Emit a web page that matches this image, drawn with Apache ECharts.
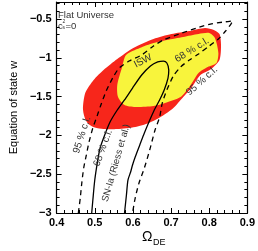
<!DOCTYPE html>
<html><head><meta charset="utf-8">
<script src="https://cdn.jsdelivr.net/npm/echarts@6/dist/echarts.min.js"></script>
<style>html,body{margin:0;padding:0;background:#fff}#c{width:258px;height:251px}</style>
</head><body><div id="c"></div>
<script>
// ---- data ----
const xMajor = [0.4, 0.5, 0.6, 0.7, 0.8, 0.9];
const xMinor = [0.42,0.44,0.46,0.48,0.52,0.54,0.56,0.58,0.62,0.64,0.66,0.68,0.72,0.74,0.76,0.78,0.82,0.84,0.86,0.88];
const yMajor = [-3, -2.5, -2, -1.5, -1, -0.5];
const yMinor = [-2.9,-2.8,-2.7,-2.6,-2.4,-2.3,-2.2,-2.1,-1.9,-1.8,-1.7,-1.6,-1.4,-1.3,-1.2,-1.1,-0.9,-0.8,-0.7,-0.6,-0.4,-0.3];

// combined 95% region (red)
const red_x = [0.469,0.471,0.476,0.497,0.523,0.559,0.601,0.654,0.701,0.748,0.789,0.812,0.827,0.831,0.827,0.805,0.777,0.753,0.732,0.706,0.677,0.642,0.606,0.559,0.523,0.500,0.485,0.476,0.471];
const red_y = [-1.646,-1.543,-1.440,-1.286,-1.157,-1.015,-0.873,-0.757,-0.693,-0.654,-0.615,-0.641,-0.693,-0.834,-1.028,-1.144,-1.221,-1.389,-1.505,-1.647,-1.750,-1.840,-1.891,-1.917,-1.917,-1.898,-1.859,-1.801,-1.724];
// combined 68% region (yellow)
const yel_x = [0.559,0.571,0.582,0.618,0.654,0.689,0.732,0.772,0.800,0.815,0.824,0.819,0.796,0.772,0.748,0.725,0.684,0.654,0.606,0.578,0.561];
const yel_y = [-1.350,-1.131,-0.963,-0.873,-0.809,-0.770,-0.731,-0.693,-0.680,-0.744,-0.937,-1.066,-1.118,-1.195,-1.376,-1.505,-1.582,-1.621,-1.634,-1.608,-1.505];
// SN-Ia 95% contour (dashed)
const sn95_x = [0.457,0.462,0.466,0.471,0.478,0.485,0.495,0.507,0.516,0.530,0.547,0.564,0.590,0.623,0.654,0.680,0.729,0.767,0.803,0.838,0.862,0.857,0.843,0.824,0.800,0.772,0.748,0.725,0.706,0.689,0.677,0.670,0.658,0.644,0.630,0.616,0.606,0.599];
const sn95_y = [-3.0,-2.807,-2.613,-2.420,-2.252,-2.085,-1.904,-1.737,-1.608,-1.427,-1.260,-1.131,-1.041,-0.963,-0.847,-0.770,-0.680,-0.615,-0.564,-0.538,-0.525,-0.564,-0.654,-0.757,-0.847,-0.950,-1.028,-1.118,-1.234,-1.414,-1.582,-1.763,-1.930,-2.188,-2.420,-2.613,-2.807,-3.0];
// SN-Ia 68% contour (solid)
const sn68_x = [0.492,0.495,0.500,0.507,0.514,0.526,0.540,0.559,0.578,0.599,0.623,0.646,0.665,0.680,0.689,0.694,0.692,0.682,0.670,0.656,0.642,0.630,0.618,0.606,0.599,0.594,0.587,0.583,0.578];
const sn68_y = [-3.0,-2.833,-2.575,-2.343,-2.162,-1.995,-1.827,-1.672,-1.543,-1.389,-1.221,-1.105,-1.053,-1.041,-1.066,-1.157,-1.260,-1.414,-1.543,-1.672,-1.827,-1.969,-2.123,-2.278,-2.381,-2.472,-2.575,-2.768,-3.0];

const zip = (a, b) => a.map((v, i) => [v, b[i]]);
const FONT = '"Liberation Sans", Arial, Helvetica, sans-serif';
const chart = echarts.init(document.getElementById('c'), null, {renderer: 'canvas'});

function xAx(pos, vals, len, main) {
  return {
    type: 'value', min: 0.4, max: 0.9, position: pos,
    axisLine: {show: main, lineStyle: {color: '#000', width: 1.2}},
    axisTick: {show: true, inside: true, length: len, customValues: vals, lineStyle: {color: '#000', width: 1}},
    axisLabel: (main && pos === 'bottom') ? {show: true, customValues: xMajor, formatter: v => v.toFixed(1), color: '#000', fontWeight: 'bold', fontSize: 11, fontFamily: FONT, margin: 4} : {show: false},
    splitLine: {show: false}
  };
}
function yAx(pos, vals, len, main) {
  return {
    type: 'value', min: -3, max: -0.28, position: pos,
    axisLine: {show: main, lineStyle: {color: '#000', width: 1.2}},
    axisTick: {show: true, inside: true, length: len, customValues: vals, lineStyle: {color: '#000', width: 1}},
    axisLabel: (main && pos === 'left') ? {show: true, customValues: yMajor, formatter: v => String(v).replace('-', '\u2212'), color: '#000', fontWeight: 'bold', fontSize: 11, fontFamily: FONT, margin: 5} : {show: false},
    name: (main && pos === 'left') ? 'Equation of state w' : '',
    nameLocation: 'middle', nameGap: 35,
    nameTextStyle: {color: '#000', fontSize: 11, fontFamily: FONT},
    splitLine: {show: false}
  };
}

function polySeries(xs, ys, color, z) {
  return {
    type: 'custom', z: z, silent: true,
    data: zip(xs, ys),
    renderItem: function (params, api) {
      if (params.dataIndex !== 0) return null;
      const pts = xs.map((x, i) => api.coord([x, ys[i]]));
      return {type: 'polygon', shape: {points: pts, smooth: 0.25}, style: {fill: color, stroke: null}};
    }
  };
}

const option = {
  animation: false,
  grid: {left: 43, right: 4, top: 2, bottom: 38, containLabel: false},
  xAxis: [xAx('bottom', xMajor, 5, true), xAx('bottom', xMinor, 3, false), xAx('top', xMajor, 5, true), xAx('top', xMinor, 3, false)],
  yAxis: [yAx('left', yMajor, 5, true), yAx('left', yMinor, 3, false), yAx('right', yMajor, 5, true), yAx('right', yMinor, 3, false)],
  series: [
    polySeries(red_x, red_y, '#F7261B', 1),
    polySeries(yel_x, yel_y, '#F8F43C', 2),
    {type: 'line', z: 3, data: zip(sn95_x, sn95_y), showSymbol: false, symbol: 'none', smooth: 0.25,
     lineStyle: {color: '#000', width: 1.3, type: [5, 4]}, silent: true},
    {type: 'line', z: 3, data: zip(sn68_x, sn68_y), showSymbol: false, symbol: 'none', smooth: 0.25,
     lineStyle: {color: '#000', width: 1.3}, silent: true}
  ],
  graphic: [
    {type: 'text', x: 58, y: 15, style: {text: 'Flat Universe', font: '9.5px ' + FONT, fill: '#333', verticalAlign: 'middle'}},
    {type: 'text', x: 58, y: 26, style: {text: 'c', font: '9.5px ' + FONT, fill: '#333', verticalAlign: 'middle'}},
    {type: 'text', x: 62.5, y: 21.5, style: {text: '2', font: '5px ' + FONT, fill: '#333', verticalAlign: 'middle'}},
    {type: 'text', x: 62.5, y: 28, style: {text: 's', font: '5px ' + FONT, fill: '#333', verticalAlign: 'middle'}},
    {type: 'text', x: 65.5, y: 26, style: {text: '=0', font: '9.5px ' + FONT, fill: '#333', verticalAlign: 'middle'}},
    {type: 'text', x: 82, y: 135, rotation: 72 * Math.PI / 180, z: 10, style: {text: '95 % c.l.', font: '10px ' + FONT, fill: '#333', align: 'center', verticalAlign: 'middle'}},
    {type: 'text', x: 103, y: 148, rotation: 70 * Math.PI / 180, z: 10, style: {text: '68 % c.l.', font: '10px ' + FONT, fill: '#333', align: 'center', verticalAlign: 'middle'}},
    {type: 'text', x: 116, y: 163, rotation: 74 * Math.PI / 180, z: 10, style: {text: 'SN-Ia (Riess et al.)', font: '9.5px ' + FONT, fill: '#333', align: 'center', verticalAlign: 'middle'}},
    {type: 'text', x: 143, y: 61, rotation: 28 * Math.PI / 180, z: 10, style: {text: 'ISW', font: '10px ' + FONT, fill: '#333', align: 'center', verticalAlign: 'middle'}},
    {type: 'text', x: 192, y: 50, rotation: 32 * Math.PI / 180, z: 10, style: {text: '68 % c.l.', font: '10px ' + FONT, fill: '#333', align: 'center', verticalAlign: 'middle'}},
    {type: 'text', x: 202, y: 81, rotation: 42 * Math.PI / 180, z: 10, style: {text: '95 % c.l.', font: '10px ' + FONT, fill: '#333', align: 'center', verticalAlign: 'middle'}},
    {type: 'text', x: 142, y: 237, style: {text: 'Ω', font: '14px ' + FONT, fill: '#000', verticalAlign: 'middle'}},
    {type: 'text', x: 153, y: 243, style: {text: 'DE', font: '9px ' + FONT, fill: '#000', verticalAlign: 'middle'}}
  ]
};
chart.setOption(option);
</script>
</body></html>
